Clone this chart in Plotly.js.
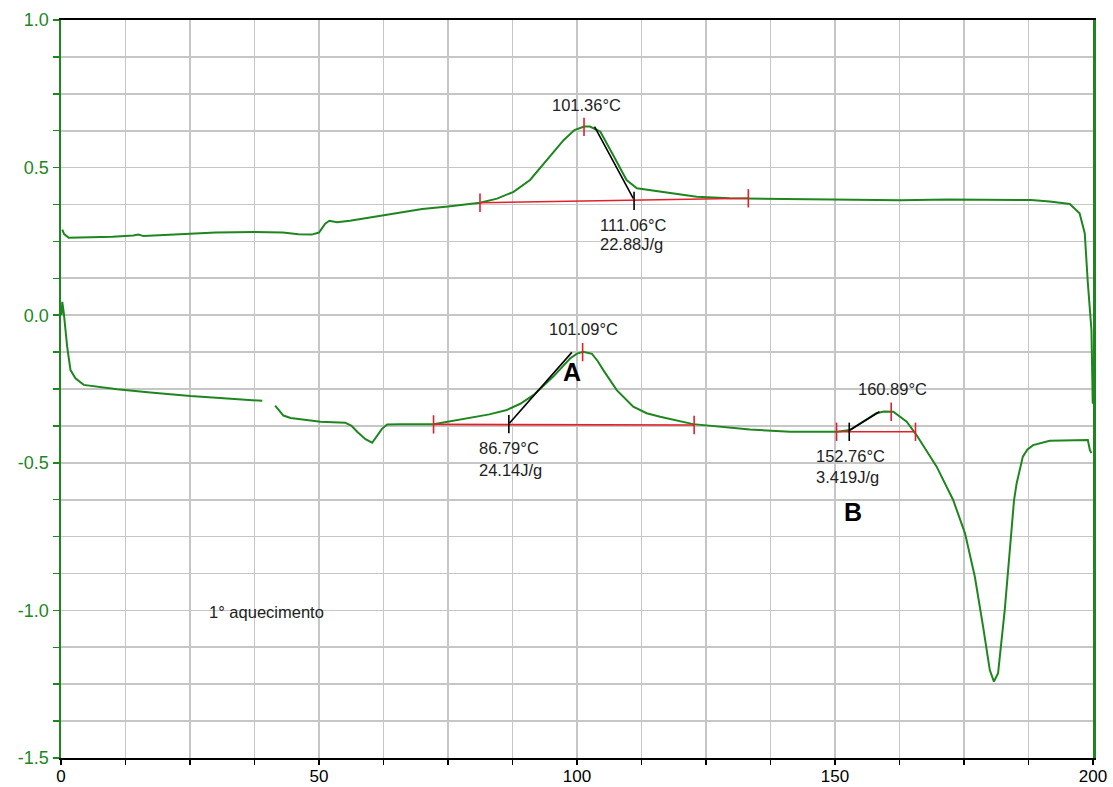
<!DOCTYPE html>
<html>
<head>
<meta charset="utf-8">
<script src="https://cdn.plot.ly/plotly-3.0.1.min.js"></script>
<style>html,body{margin:0;padding:0;background:#fff}#chart{width:1113px;height:787px}</style>
</head>
<body>
<div id="chart"></div>
<script>
// ---- data ----
const upperT = [0.25,0.6,1.5,5,10,14,15,16,20,25,30,37.5,43,46,48.6,50,51.2,52,53.5,56,60,65.7,70,75,81.2,84.5,87.7,90.9,94.1,97.4,99.5,100.6,101.4,102.5,104.5,107,109.6,111.6,116.7,123.2,129.6,139.3,150,162.6,172,181.9,188,191.6,195.5,197.4,198.4,199,199.7,199.95];
const upperY = [0.29,0.275,0.262,0.263,0.266,0.27,0.273,0.268,0.272,0.276,0.28,0.282,0.28,0.274,0.273,0.28,0.31,0.32,0.315,0.32,0.332,0.349,0.36,0.368,0.381,0.395,0.418,0.458,0.526,0.593,0.627,0.635,0.639,0.639,0.622,0.543,0.458,0.43,0.418,0.401,0.396,0.394,0.392,0.389,0.392,0.392,0.39,0.385,0.377,0.345,0.278,0.109,-0.05,-0.3];

const lowerT = [0.1,0.25,0.55,1.2,1.84,2.8,4.4,10.9,17.3,25.1,32.2,39.0,null,41.5,42.3,43.1,44.5,46.4,50.3,55.1,56.3,57.4,59,60.3,61.2,62.2,63.2,65.7,72.2,78.7,83,86.4,89,91.6,95.4,98.7,100,101.2,102.9,104,105.1,107.7,110.9,113.5,116.1,122.5,133.5,141.3,150.3,152.9,155.5,158.0,159.5,161.3,163.9,165.8,169.7,172.9,175.2,177.1,178.7,180.0,180.8,181.6,182.9,183.9,184.7,185.2,186.4,187.3,188.4,191.6,195,199.0,199.4,199.7];
const lowerY = [0.0,0.045,0.006,-0.107,-0.186,-0.214,-0.236,-0.251,-0.262,-0.274,-0.282,-0.29,null,-0.306,-0.325,-0.34,-0.348,-0.353,-0.361,-0.364,-0.375,-0.395,-0.42,-0.432,-0.411,-0.385,-0.37,-0.369,-0.369,-0.349,-0.336,-0.321,-0.3,-0.27,-0.208,-0.146,-0.13,-0.124,-0.131,-0.155,-0.186,-0.254,-0.31,-0.332,-0.344,-0.369,-0.387,-0.395,-0.395,-0.389,-0.36,-0.332,-0.326,-0.327,-0.361,-0.406,-0.513,-0.626,-0.739,-0.886,-1.055,-1.202,-1.241,-1.213,-0.998,-0.785,-0.626,-0.57,-0.479,-0.455,-0.44,-0.425,-0.423,-0.423,-0.457,-0.467];

// peak analyses: integration baselines, peak markers, onset/end markers, tangents
const baseStartT = [81.2, 72.2, 150.3];
const baseStartY = [0.381, -0.370, -0.395];
const baseEndT   = [133.2, 122.7, 165.6];
const baseEndY   = [0.396, -0.372, -0.395];
const peakT      = [101.36, 101.09, 160.89];
const peakY      = [0.638, -0.125, -0.327];
const onsetT     = [111.06, 86.79, 152.76];
const onsetY     = [0.387, -0.369, -0.395];
const tangentT0  = [103.4, 86.9, 152.9];
const tangentY0  = [0.639, -0.366, -0.389];
const tangentT1  = [110.9, 99.0, 158.6];
const tangentY1  = [0.396, -0.126, -0.327];

// text labels
const labelText = ['101.36°C','111.06°C','22.88J/g','101.09°C','86.79°C','24.14J/g','160.89°C','152.76°C','3.419J/g','1° aquecimento'];
const labelT    = [101.8, 104.1, 104.1, 101.2, 80.6, 80.6, 161.2, 145.9, 145.9, 28.3];
const labelY    = [0.712, 0.306, 0.240, -0.048, -0.451, -0.524, -0.251, -0.477, -0.547, -1.004];
const labelAnchor = ['center','left','left','center','left','left','center','left','left','left'];
const markText = ['A','B'];
const markT = [99.1, 153.5];
const markY = [-0.191, -0.666];

// axis ticks
const xTickVals = [0,12.5,25,37.5,50,62.5,75,87.5,100,112.5,125,137.5,150,162.5,175,187.5,200];
const xTickText = ['0','','','','50','','','','100','','','','150','','','','200'];
const yTickVals = [-1.5,-1.375,-1.25,-1.125,-1.0,-0.875,-0.75,-0.625,-0.5,-0.375,-0.25,-0.125,0,0.125,0.25,0.375,0.5,0.625,0.75,0.875,1.0];
const yTickText = ['-1.5','','','','-1.0','','','','-0.5','','','','0.0','','','','0.5','','','','1.0'];

// ---- drawing ----
const GREEN = '#1e861e';
const RED = '#e3202a';
const FONT = 'Liberation Sans, Arial, sans-serif';
const tick = 0.031;

const shapes = [];
for (let i = 0; i < peakT.length; i++) {
  shapes.push({type:'line', xref:'x', yref:'y', x0:baseStartT[i], y0:baseStartY[i], x1:baseEndT[i], y1:baseEndY[i], line:{color:RED, width:1.6}});
  shapes.push({type:'line', xref:'x', yref:'y', x0:baseStartT[i], y0:baseStartY[i]-tick, x1:baseStartT[i], y1:baseStartY[i]+tick, line:{color:RED, width:1.6}});
  shapes.push({type:'line', xref:'x', yref:'y', x0:baseEndT[i], y0:baseEndY[i]-tick, x1:baseEndT[i], y1:baseEndY[i]+tick, line:{color:RED, width:1.6}});
  shapes.push({type:'line', xref:'x', yref:'y', x0:peakT[i], y0:peakY[i]-tick, x1:peakT[i], y1:peakY[i]+tick, line:{color:RED, width:1.6}});
  shapes.push({type:'line', xref:'x', yref:'y', x0:tangentT0[i], y0:tangentY0[i], x1:tangentT1[i], y1:tangentY1[i], line:{color:'#000', width:1.6}});
  shapes.push({type:'line', xref:'x', yref:'y', x0:onsetT[i], y0:onsetY[i]-tick, x1:onsetT[i], y1:onsetY[i]+tick, line:{color:'#000', width:1.6}});
}

const annotations = [];
for (let i = 0; i < labelText.length; i++) {
  annotations.push({x:labelT[i], y:labelY[i], xref:'x', yref:'y', text:labelText[i], showarrow:false, xanchor:labelAnchor[i], yanchor:'middle', font:{family:FONT, size:16.5, color:'#222'}});
}
for (let i = 0; i < markText.length; i++) {
  annotations.push({x:markT[i], y:markY[i], xref:'x', yref:'y', text:'<b>'+markText[i]+'</b>', showarrow:false, xanchor:'center', yanchor:'middle', font:{family:FONT, size:25, color:'#000'}});
}

const traces = [
  {x:upperT, y:upperY, type:'scatter', mode:'lines', line:{color:GREEN, width:2}, hoverinfo:'skip'},
  {x:lowerT, y:lowerY, type:'scatter', mode:'lines', line:{color:GREEN, width:2}, connectgaps:false, hoverinfo:'skip'}
];

const layout = {
  width:1113, height:787,
  margin:{l:61, r:20, t:20, b:29},
  paper_bgcolor:'#fff', plot_bgcolor:'#fff',
  showlegend:false,
  font:{family:FONT},
  xaxis:{
    range:[0,200], tickmode:'array', tickvals:xTickVals, ticktext:xTickText,
    showgrid:true, gridcolor:'#c6c6c6', gridwidth:1.6,
    showline:true, linecolor:'#000', linewidth:2, mirror:true,
    ticks:'outside', ticklen:5, tickcolor:'#000', tickwidth:1.5,
    ticklabelstandoff:-3,
    tickfont:{family:FONT, size:17, color:'#000'}, zeroline:false
  },
  yaxis:{
    range:[-1.5,1.0], tickmode:'array', tickvals:yTickVals, ticktext:yTickText,
    showgrid:true, gridcolor:'#c6c6c6', gridwidth:1.6,
    showline:true, linecolor:GREEN, linewidth:2.5, mirror:true,
    ticks:'outside', ticklen:6, tickcolor:GREEN, tickwidth:1.5,
    tickfont:{family:FONT, size:18, color:GREEN}, zeroline:false
  },
  shapes:shapes,
  annotations:annotations
};

Plotly.newPlot('chart', traces, layout, {displayModeBar:false, staticPlot:true});
</script>
</body>
</html>
